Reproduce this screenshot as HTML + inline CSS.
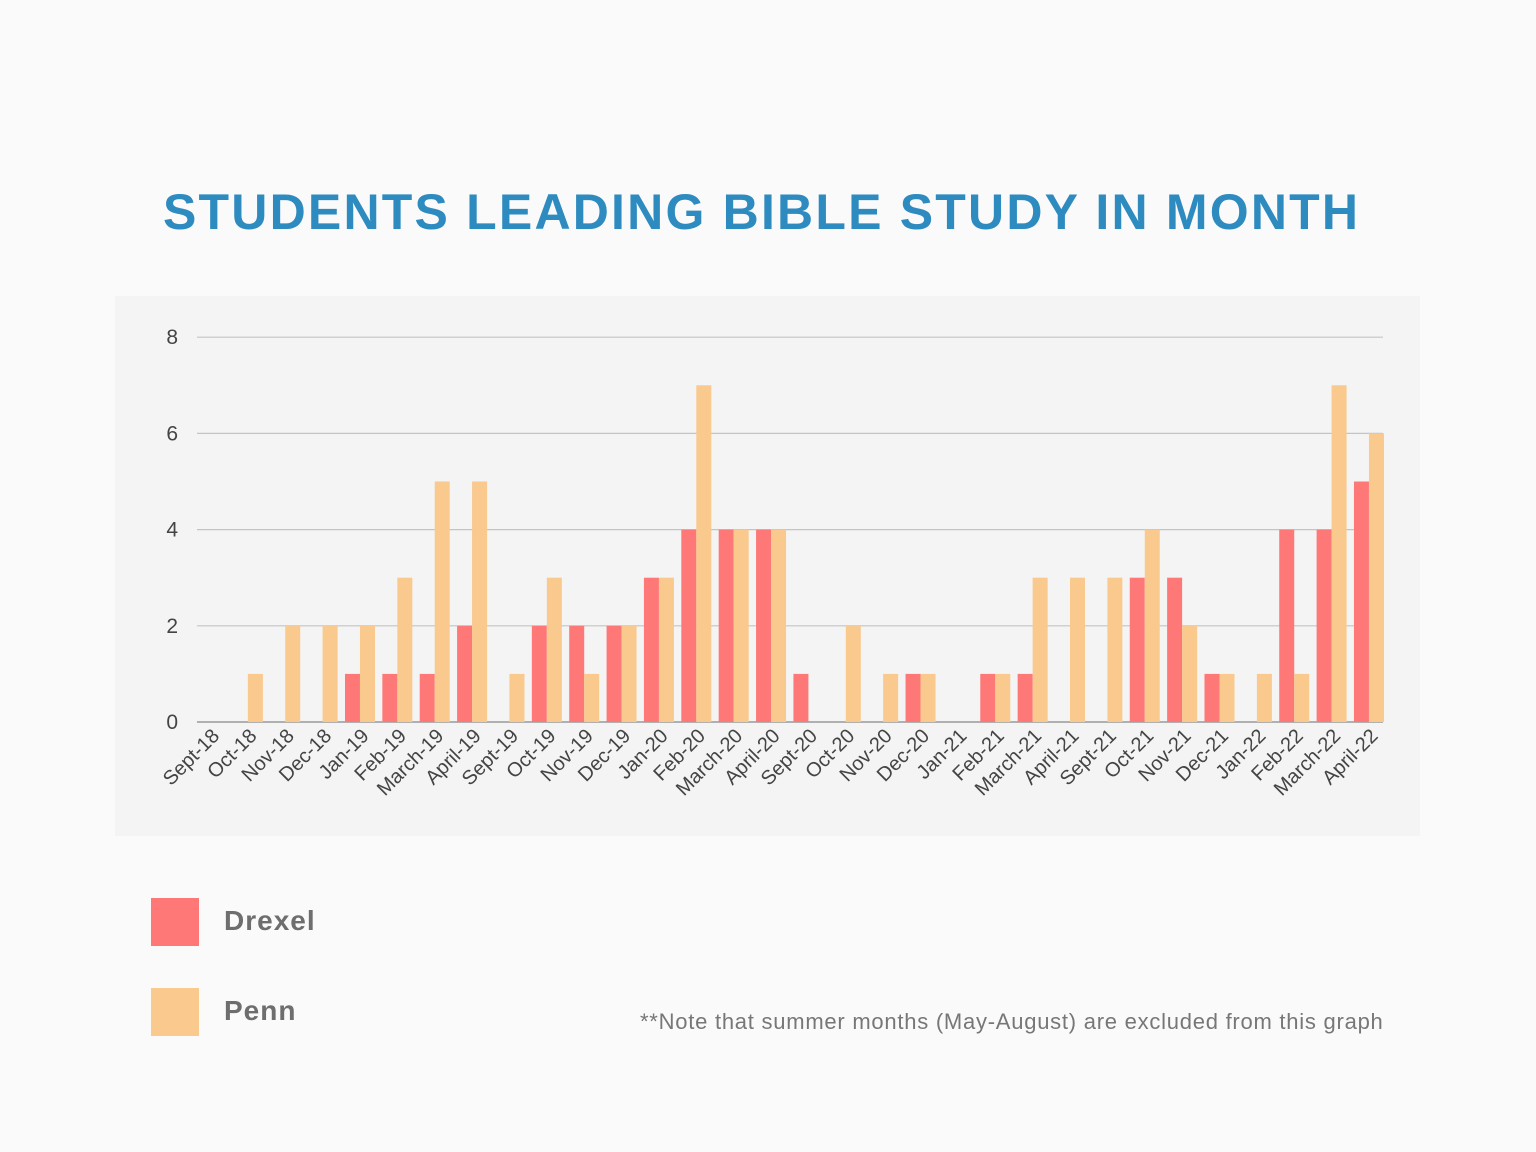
<!DOCTYPE html>
<html><head><meta charset="utf-8"><style>
html,body{margin:0;padding:0;background:#fafafa;}
body{width:1536px;height:1152px;position:relative;overflow:hidden;font-family:"Liberation Sans",sans-serif;}
#title{position:absolute;left:163px;top:183px;font-size:50px;font-weight:900;color:#2e8bc0;letter-spacing:2.2px;white-space:nowrap;}
#panel{position:absolute;left:115px;top:296px;width:1305px;height:540px;background:#f4f4f4;}
.leg{position:absolute;width:48px;height:48px;}
.legt{position:absolute;font-size:28px;font-weight:bold;color:#6e6e6e;letter-spacing:1px;}
#note{position:absolute;left:640px;top:1009px;font-size:22px;color:#777;letter-spacing:0.75px;white-space:nowrap;}
</style></head><body>
<div id="title">STUDENTS LEADING BIBLE STUDY IN MONTH</div>
<div id="panel"></div>
<svg id="chart" width="1536" height="1152" style="position:absolute;left:0;top:0"></svg>
<div class="leg" style="left:151px;top:898px;background:#ff7878"></div>
<div class="legt" style="left:224px;top:905px">Drexel</div>
<div class="leg" style="left:151px;top:988px;background:#f9c98d"></div>
<div class="legt" style="left:224px;top:995px">Penn</div>
<div id="note">**Note that summer months (May-August) are excluded from this graph</div>
<script>
const categories=["Sept-18","Oct-18","Nov-18","Dec-18","Jan-19","Feb-19","March-19","April-19","Sept-19","Oct-19","Nov-19","Dec-19","Jan-20","Feb-20","March-20","April-20","Sept-20","Oct-20","Nov-20","Dec-20","Jan-21","Feb-21","March-21","April-21","Sept-21","Oct-21","Nov-21","Dec-21","Jan-22","Feb-22","March-22","April-22"];
const drexel=[0,0,0,0,1,1,1,2,0,2,2,2,3,4,4,4,1,0,0,1,0,1,1,0,0,3,3,1,0,4,4,5];
const penn=[0,1,2,2,2,3,5,5,1,3,1,2,3,7,4,4,0,2,1,1,0,1,3,3,3,4,2,1,1,1,7,6];
const yTicks=[0,2,4,6,8];
const NS="http://www.w3.org/2000/svg";
const svg=document.getElementById('chart');
const y=v=>722-v*48.1;
const xc=i=>210.5+i*37.37;
const bw=15;
function mk(t,a){const e=document.createElementNS(NS,t);for(const k in a)e.setAttribute(k,a[k]);svg.appendChild(e);return e;}
yTicks.forEach(t=>{
 const l=mk('line',{x1:197,x2:1383,y1:y(t),y2:y(t),stroke:t===0?'#888':'#c4c4c4','stroke-width':1.2});
 
 
 const tx=mk('text',{x:178,y:y(t)+7,'text-anchor':'end','font-size':21,fill:'#444','font-family':'Liberation Sans, sans-serif'});
 tx.textContent=t;
 
 
});
categories.forEach((c,i)=>{
 if(drexel[i]>0){const r=mk('rect',{x:xc(i)-bw,y:y(drexel[i]),width:bw,height:y(0)-y(drexel[i]),fill:'#ff7878'});
 
 }
 if(penn[i]>0){const r=mk('rect',{x:xc(i),y:y(penn[i]),width:bw,height:y(0)-y(penn[i]),fill:'#f9c98d'});
 
 }
 const tx=mk('text',{x:0,y:0,'text-anchor':'end','font-size':20,fill:'#444','font-family':'Liberation Sans, sans-serif',transform:`translate(${xc(i)+10},${737}) rotate(-45)`});
 tx.textContent=c;
 
 
});
</script>
</body></html>
